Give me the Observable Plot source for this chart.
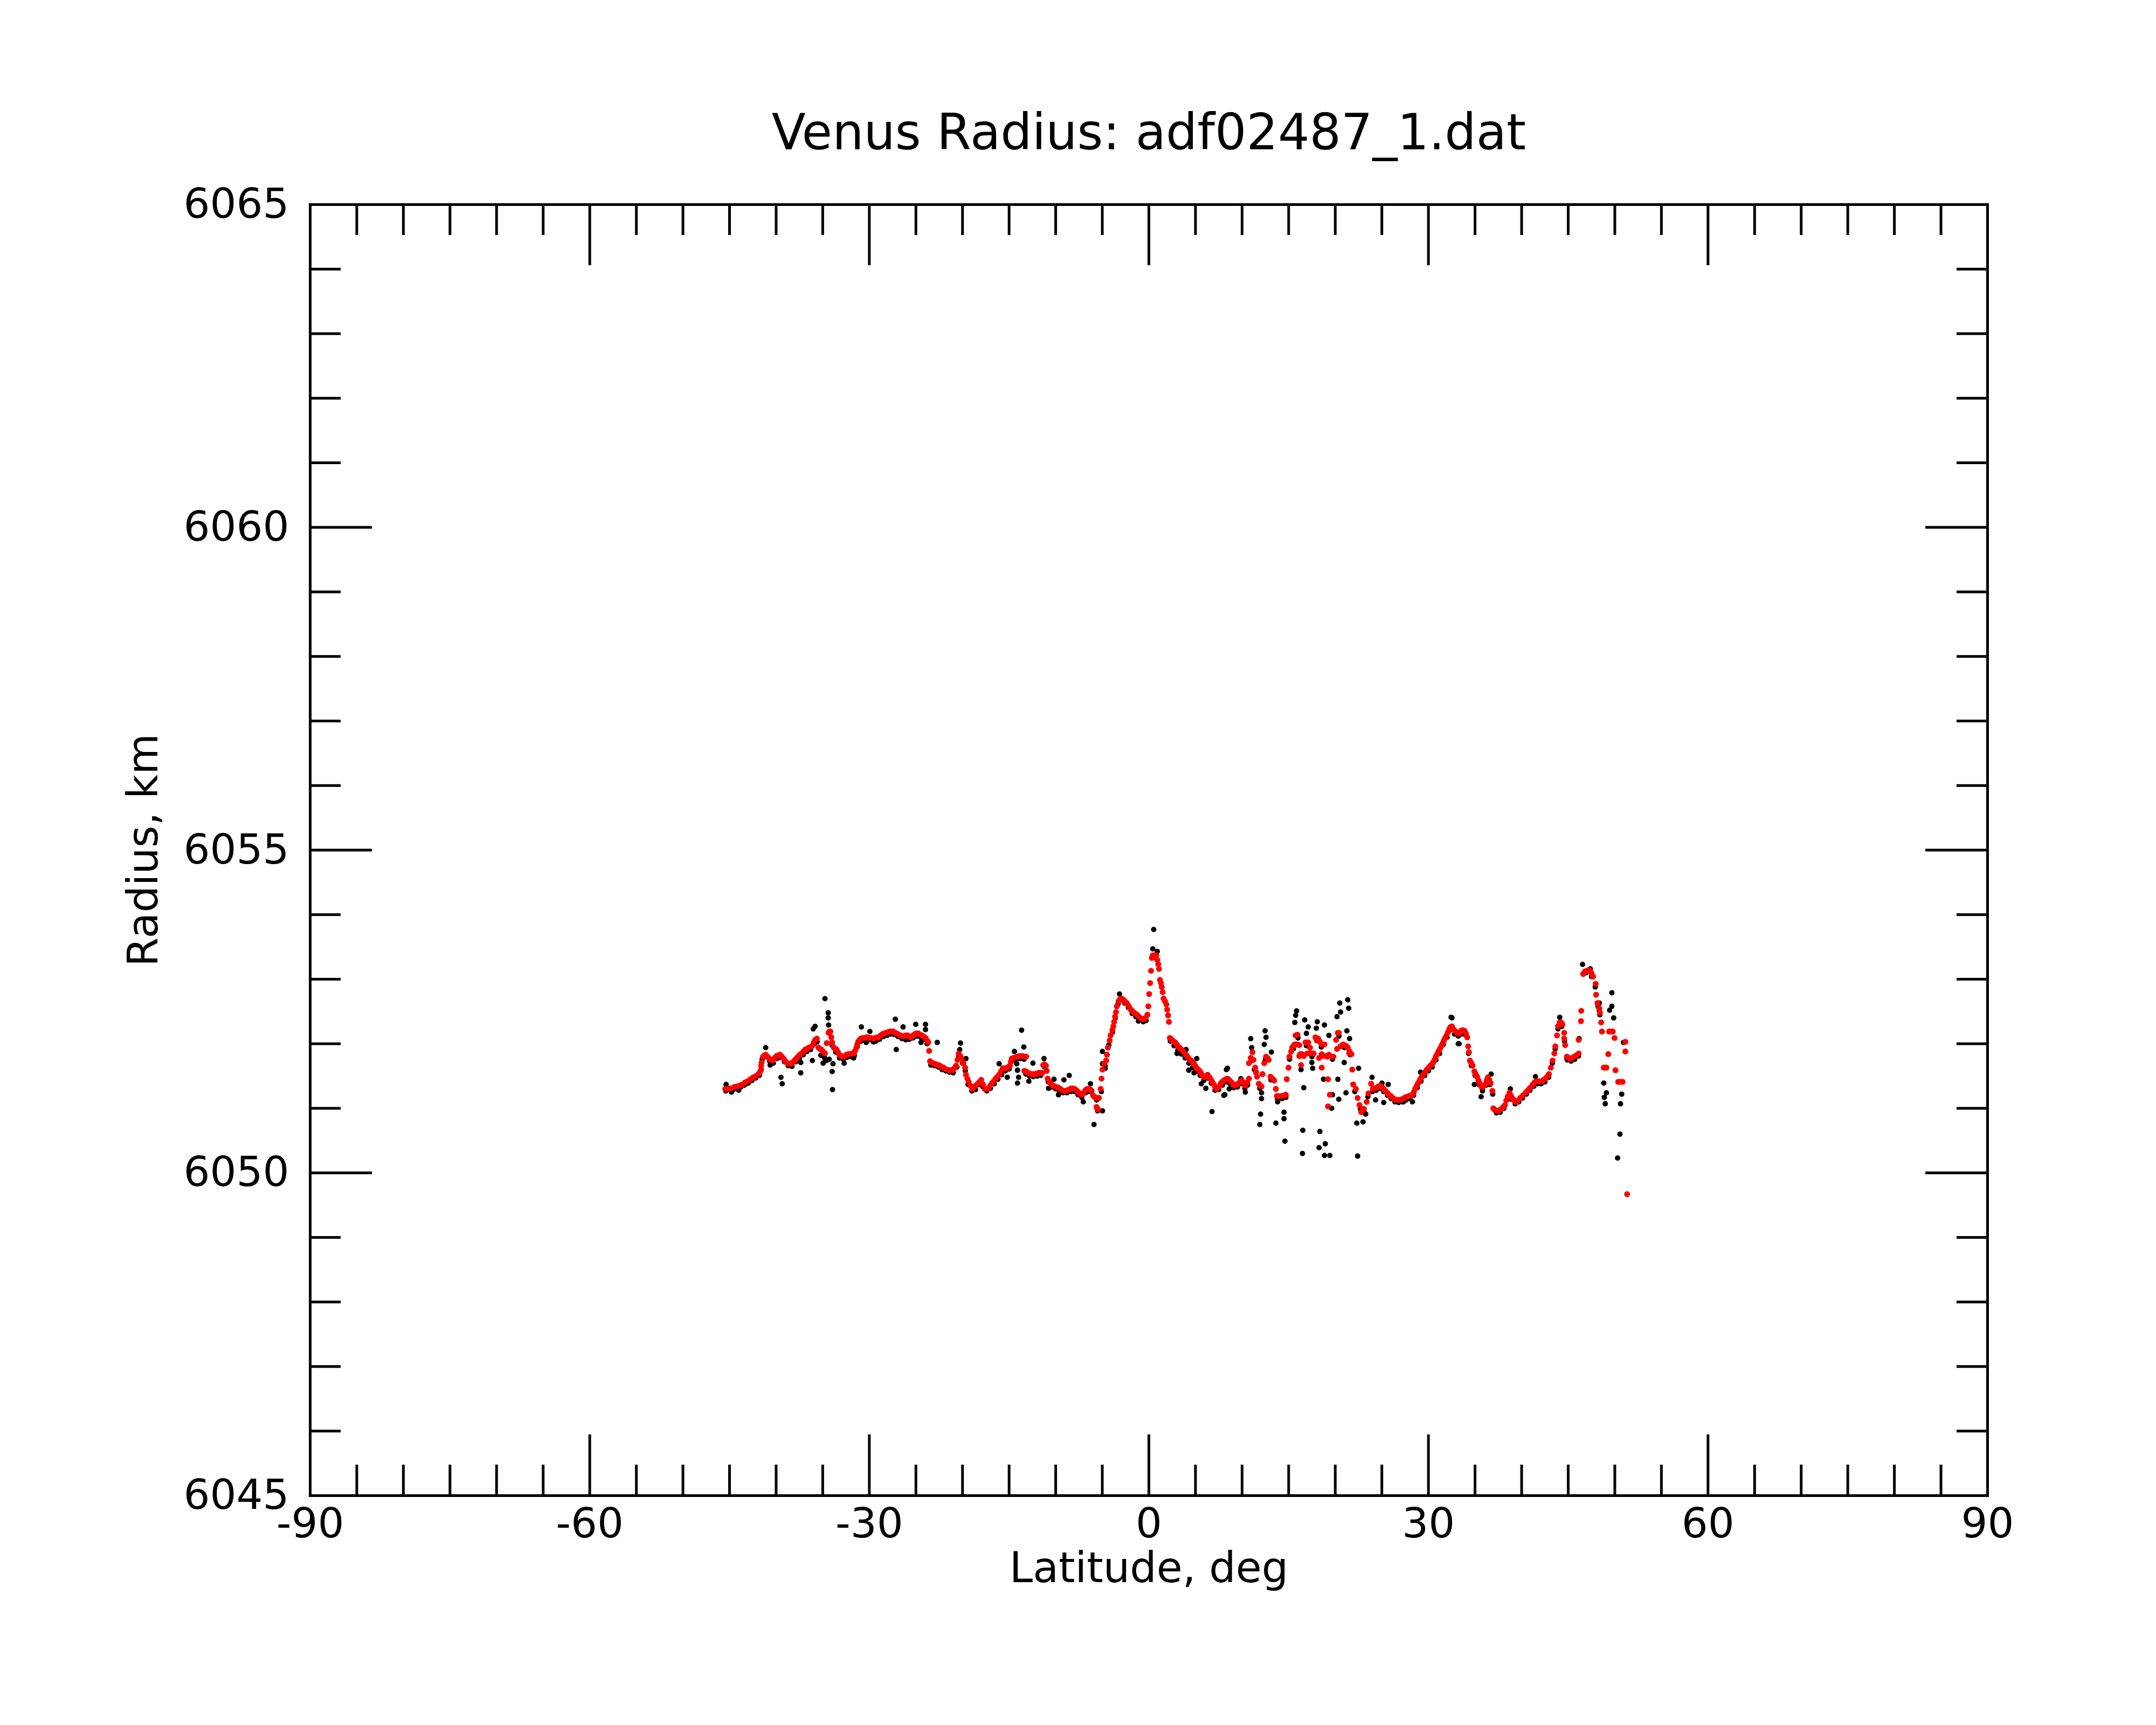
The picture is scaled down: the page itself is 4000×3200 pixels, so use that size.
<!DOCTYPE html>
<html><head><meta charset="utf-8">
<script src="https://cdn.jsdelivr.net/npm/d3@7"></script>
<script src="https://cdn.jsdelivr.net/npm/@observablehq/plot@0.6"></script>
<style>body{margin:0;background:#fff;} svg{display:block}</style>
</head><body><div id="chart"></div>
<script>
const title = "Venus Radius: adf02487_1.dat";
const xLabel = "Latitude, deg";
const yLabel = "Radius, km";
const xMajorTicks = [-90,-60,-30,0,30,60,90];
const xMinorTicks = [-85,-80,-75,-70,-65,-55,-50,-45,-40,-35,-25,-20,-15,-10,-5,5,10,15,20,25,35,40,45,50,55,65,70,75,80,85];
const yMajorTicks = [6045,6050,6055,6060,6065];
const yMinorTicks = [6046,6047,6048,6049,6051,6052,6053,6054,6056,6057,6058,6059,6061,6062,6063,6064];

// red series (latitude, radius km)
const redSouth = [[-45.46,6051.30],[-45.20,6051.30],[-44.99,6051.31],[-44.79,6051.31],[-44.50,6051.33],[-44.21,6051.34],[-43.92,6051.35],[-43.63,6051.37],[-43.34,6051.40],[-43.05,6051.42],[-42.76,6051.45],[-42.47,6051.48],[-42.18,6051.50],[-41.90,6051.53],[-41.75,6051.56],[-41.61,6051.60],[-41.61,6051.66],[-41.55,6051.71],[-41.41,6051.80],[-41.25,6051.82],[-41.12,6051.83],[-40.93,6051.80],[-40.74,6051.77],[-40.55,6051.75],[-40.35,6051.74],[-40.16,6051.78],[-39.97,6051.81],[-39.78,6051.82],[-39.58,6051.83],[-39.39,6051.80],[-39.20,6051.77],[-39.00,6051.73],[-38.81,6051.70],[-38.62,6051.69],[-38.43,6051.69],[-38.24,6051.71],[-38.04,6051.74],[-37.85,6051.77],[-37.65,6051.80],[-37.46,6051.83],[-37.27,6051.85],[-37.07,6051.88],[-36.88,6051.91],[-36.69,6051.92],[-36.50,6051.94],[-36.30,6051.95],[-36.11,6051.97],[-35.96,6052.02],[-35.82,6052.06],[-35.63,6052.08],[-35.44,6051.94],[-35.30,6051.92],[-35.15,6051.91],[-34.96,6051.88],[-34.76,6051.85],[-34.57,6052.01],[-34.38,6052.17],[-34.28,6052.19],[-34.18,6052.19],[-34.08,6052.10],[-33.99,6052.02],[-33.80,6051.94],[-33.65,6051.92],[-33.51,6051.91],[-33.36,6051.87],[-33.22,6051.83],[-33.02,6051.81],[-32.83,6051.80],[-32.64,6051.81],[-32.45,6051.83],[-32.25,6051.84],[-32.06,6051.84],[-31.87,6051.85],[-31.68,6051.85],[-31.53,6051.89],[-31.39,6051.94],[-31.29,6051.99],[-31.19,6052.03],[-31.05,6052.06],[-30.91,6052.08],[-30.71,6052.09],[-30.52,6052.09],[-30.33,6052.10],[-30.13,6052.10],[-29.94,6052.09],[-29.75,6052.09],[-29.56,6052.08],[-29.36,6052.09],[-29.17,6052.10],[-28.98,6052.10],[-28.78,6052.13],[-28.59,6052.15],[-28.40,6052.16],[-28.21,6052.17],[-28.01,6052.18],[-27.82,6052.19],[-27.63,6052.19],[-27.43,6052.19],[-27.24,6052.17],[-27.05,6052.16],[-26.86,6052.14],[-26.66,6052.13],[-26.47,6052.12],[-26.28,6052.12],[-26.09,6052.13],[-25.89,6052.13],[-25.70,6052.11],[-25.51,6052.10],[-25.31,6052.13],[-25.12,6052.15],[-24.93,6052.16],[-24.74,6052.16],[-24.55,6052.14],[-24.35,6052.13],[-24.16,6052.11],[-23.97,6052.09],[-23.80,6052.05],[-23.68,6052.02],[-23.58,6051.89],[-23.48,6051.73],[-23.34,6051.71],[-23.19,6051.70],[-23.00,6051.69],[-22.80,6051.68],[-22.61,6051.67],[-22.42,6051.66],[-22.23,6051.64],[-22.04,6051.63],[-21.85,6051.61],[-21.65,6051.60],[-21.46,6051.59],[-21.26,6051.59],[-21.07,6051.59],[-20.88,6051.62],[-20.69,6051.66],[-20.55,6051.75],[-20.40,6051.85],[-20.25,6051.81],[-20.11,6051.77],[-19.92,6051.70],[-19.72,6051.63],[-19.63,6051.52],[-19.48,6051.46],[-19.34,6051.41],[-19.15,6051.35],[-18.95,6051.30],[-18.76,6051.33],[-18.57,6051.35]];

const redEquator = [[-18.38,6051.38],[-18.18,6051.41],[-17.99,6051.44],[-17.80,6051.37],[-17.61,6051.30],[-17.41,6051.30],[-17.22,6051.31],[-17.03,6051.35],[-16.84,6051.39],[-16.64,6051.42],[-16.45,6051.46],[-16.26,6051.49],[-16.07,6051.52],[-15.87,6051.57],[-15.68,6051.62],[-15.49,6051.62],[-15.29,6051.62],[-15.10,6051.64],[-14.91,6051.66],[-14.81,6051.72],[-14.72,6051.77],[-14.53,6051.78],[-14.33,6051.79],[-14.14,6051.80],[-13.95,6051.81],[-13.75,6051.81],[-13.56,6051.81],[-13.37,6051.80],[-13.17,6051.80],[-13.37,6051.58],[-13.17,6051.57],[-12.98,6051.55],[-12.79,6051.54],[-12.60,6051.52],[-12.41,6051.53],[-12.21,6051.53],[-12.02,6051.54],[-11.82,6051.55],[-11.63,6051.55],[-11.44,6051.55],[-11.34,6051.67],[-11.20,6051.68],[-11.05,6051.66],[-10.96,6051.58],[-10.86,6051.46],[-10.67,6051.41],[-10.48,6051.38],[-10.28,6051.35],[-10.09,6051.34],[-9.90,6051.33],[-9.70,6051.32],[-9.51,6051.30],[-9.32,6051.28],[-9.12,6051.27],[-8.93,6051.27],[-8.74,6051.28],[-8.55,6051.29],[-8.35,6051.31],[-8.16,6051.31],[-7.97,6051.30],[-7.78,6051.28],[-7.58,6051.25],[-7.44,6051.23],[-7.29,6051.21],[-7.15,6051.22],[-7.00,6051.24],[-6.81,6051.28],[-6.62,6051.30],[-6.42,6051.30],[-6.28,6051.29],[-6.14,6051.27],[-5.94,6051.19],[-5.80,6051.17],[-5.65,6051.16],[-5.50,6051.16],[-5.36,6051.16],[-5.62,6051.02],[-5.55,6051.00],[-5.46,6050.98],[-5.17,6051.30],[-5.08,6051.46],[-4.98,6051.60],[-4.79,6051.69],[-4.59,6051.74],[-4.50,6051.83],[-4.40,6051.94],[-4.21,6052.05],[-4.11,6052.13],[-3.92,6052.21],[-3.82,6052.27],[-3.73,6052.34],[-3.63,6052.42],[-3.53,6052.49],[-3.44,6052.58],[-3.24,6052.66],[-3.10,6052.69],[-2.96,6052.70],[-2.81,6052.69],[-2.67,6052.67],[-2.53,6052.65],[-2.38,6052.63],[-2.24,6052.60],[-2.09,6052.56],[-1.95,6052.53],[-1.80,6052.51],[-1.66,6052.49],[-1.51,6052.47],[-1.37,6052.46],[-1.22,6052.44],[-1.08,6052.42],[-0.93,6052.40],[-0.79,6052.39],[-0.64,6052.38],[-0.50,6052.39],[-0.35,6052.40],[-0.16,6052.45],[-0.06,6052.58],[0.03,6052.77],[0.13,6052.94],[0.23,6053.13],[0.32,6053.33],[0.42,6053.37],[0.52,6053.37],[0.66,6053.37],[0.80,6053.37],[0.90,6053.30],[1.00,6053.23],[1.09,6053.16],[1.19,6052.99],[1.29,6052.94],[1.38,6052.88],[1.48,6052.80],[1.58,6052.70],[1.72,6052.66],[1.87,6052.61],[1.96,6052.53],[2.06,6052.44],[2.15,6052.34],[2.25,6052.09],[2.40,6052.07],[2.54,6052.05],[2.69,6052.03],[2.83,6052.02],[2.98,6051.99],[3.12,6051.96],[3.27,6051.94],[3.41,6051.92],[3.56,6051.90],[3.70,6051.88],[3.85,6051.85],[3.99,6051.83],[4.14,6051.80],[4.28,6051.77],[4.42,6051.75],[4.56,6051.74],[4.71,6051.71],[4.85,6051.69],[5.00,6051.65],[5.14,6051.62],[5.29,6051.60],[5.43,6051.58],[5.58,6051.55],[5.72,6051.51],[5.87,6051.49],[6.01,6051.48],[6.15,6051.50],[6.30,6051.52],[6.50,6051.48],[6.69,6051.44],[6.83,6051.40],[6.97,6051.37],[7.12,6051.33],[7.26,6051.30],[7.41,6051.32],[7.55,6051.34],[7.70,6051.38],[7.84,6051.41],[8.04,6051.43],[8.23,6051.45]];

const redNorth = [[8.43,6051.46],[8.62,6051.44],[8.81,6051.41],[9.01,6051.38],[9.20,6051.35],[9.39,6051.37],[9.58,6051.38],[9.78,6051.41],[9.97,6051.43],[10.16,6051.40],[10.35,6051.35],[10.55,6051.40],[10.74,6051.46],[10.74,6051.70],[10.93,6051.78],[11.12,6051.87],[11.22,6051.75],[11.41,6051.63],[11.51,6051.56],[11.61,6051.49],[11.80,6051.38],[11.95,6051.35],[12.09,6051.34],[12.19,6051.53],[12.38,6051.70],[12.57,6051.80],[12.72,6051.78],[12.86,6051.75],[13.05,6051.49],[13.25,6051.46],[13.44,6051.43],[13.63,6051.30],[13.73,6051.19],[13.92,6051.19],[14.21,6051.19],[14.50,6051.20],[14.69,6051.21],[14.79,6051.45],[14.98,6051.63],[15.08,6051.80],[15.27,6051.88],[15.37,6051.94],[15.56,6051.98],[15.66,6051.99],[15.85,6051.99],[15.75,6052.13],[15.94,6052.14],[16.14,6051.98],[16.14,6051.81],[16.23,6051.84],[16.43,6051.84],[16.33,6051.67],[16.62,6051.81],[16.81,6052.02],[17.10,6052.02],[17.00,6051.85],[17.29,6051.85],[17.29,6051.94],[17.49,6051.85],[17.68,6051.85],[17.87,6052.10],[18.00,6052.06],[18.16,6052.08],[18.35,6052.03],[18.26,6051.78],[18.55,6051.99],[18.55,6051.84],[18.55,6051.63],[18.65,6051.81],[18.84,6051.99],[19.03,6051.81],[19.13,6051.80],[19.32,6051.83],[19.22,6051.45],[19.42,6051.21],[19.22,6051.03],[19.61,6051.80],[19.80,6051.80],[20.09,6052.06],[20.28,6052.17],[20.38,6052.17],[20.19,6051.92],[20.57,6051.96],[20.76,6051.98],[20.86,6051.99],[21.15,6051.97],[21.34,6051.94],[21.50,6051.85],[21.54,6051.88],[21.73,6051.84],[21.83,6051.60],[21.92,6051.37],[22.21,6051.30],[22.40,6051.16],[22.60,6051.05],[22.79,6050.94],[22.98,6050.99],[23.08,6050.99],[23.37,6051.10],[23.56,6051.23],[23.85,6051.38],[24.04,6051.30],[24.23,6051.31],[24.43,6051.32],[24.62,6051.34],[24.81,6051.35],[25.01,6051.33],[25.20,6051.30],[25.39,6051.27],[25.58,6051.24],[25.78,6051.21],[25.97,6051.19],[26.16,6051.16],[26.36,6051.14],[26.55,6051.13],[26.74,6051.13],[26.94,6051.13],[27.13,6051.14],[27.32,6051.15],[27.51,6051.17],[27.71,6051.18],[27.90,6051.19],[28.09,6051.20],[28.28,6051.21],[28.43,6051.25],[28.57,6051.30],[28.72,6051.34],[28.86,6051.38],[29.01,6051.42],[29.15,6051.46],[29.30,6051.49],[29.44,6051.52],[29.63,6051.56],[29.83,6051.60],[30.02,6051.63],[30.21,6051.66],[30.36,6051.68],[30.50,6051.71],[30.65,6051.75],[30.79,6051.80],[30.94,6051.84],[31.08,6051.88],[31.22,6051.92],[31.37,6051.96],[31.51,6052.00],[31.66,6052.05],[31.80,6052.09],[31.95,6052.13],[32.10,6052.18],[32.24,6052.23],[32.38,6052.26],[32.53,6052.27],[32.72,6052.22],[32.91,6052.19],[33.10,6052.16]];

const redFar = [[33.30,6052.16],[33.49,6052.20],[33.68,6052.21],[33.87,6052.20],[34.02,6052.16],[34.16,6052.10],[34.26,6051.96],[34.35,6051.87],[34.45,6051.74],[34.60,6051.70],[34.74,6051.66],[34.93,6051.57],[35.07,6051.53],[35.22,6051.49],[35.37,6051.43],[35.51,6051.38],[35.70,6051.33],[35.90,6051.34],[36.09,6051.37],[36.24,6051.43],[36.38,6051.48],[36.53,6051.44],[36.67,6051.39],[36.86,6051.27],[36.96,6051.00],[37.15,6050.97],[37.34,6050.96],[37.58,6050.97],[37.82,6050.99],[38.02,6051.02],[38.21,6051.05],[38.35,6051.12],[38.50,6051.18],[38.69,6051.24],[38.84,6051.20],[38.98,6051.16],[39.17,6051.13],[39.37,6051.10],[39.61,6051.12],[39.85,6051.16],[40.14,6051.20],[40.43,6051.24],[40.62,6051.27],[40.81,6051.30],[41.01,6051.33],[41.20,6051.37],[41.39,6051.40],[41.58,6051.42],[41.87,6051.42],[42.16,6051.42],[42.35,6051.44],[42.55,6051.46],[42.74,6051.49],[42.93,6051.53],[43.13,6051.63],[43.32,6051.74],[43.51,6051.85],[43.61,6051.96],[43.80,6052.13],[43.90,6052.27],[44.09,6052.33],[44.23,6052.33],[44.38,6052.30],[44.57,6052.17],[44.57,6052.08],[44.67,6051.98],[44.86,6051.80],[45.05,6051.78],[45.25,6051.77],[45.44,6051.78],[45.63,6051.80],[45.85,6051.82],[46.12,6051.85],[46.12,6052.06],[46.37,6052.35],[46.40,6052.51],[46.60,6053.08],[46.79,6053.12],[46.98,6053.13],[47.18,6053.14],[47.37,6053.13],[47.50,6053.09],[47.66,6053.04],[47.95,6052.93],[47.99,6052.76],[48.14,6052.63],[48.33,6052.55],[48.40,6052.48],[48.53,6052.33],[48.62,6052.19],[48.81,6051.63],[49.00,6051.63],[49.10,6051.63],[49.30,6051.84],[49.39,6052.19],[49.59,6052.19],[49.78,6052.19],[49.97,6052.09],[50.07,6051.59],[50.36,6051.41],[50.55,6051.41],[50.74,6051.41],[50.84,6051.41],[51.13,6052.03],[51.13,6051.88],[51.32,6049.67]];

// black series (latitude, radius km)
const blackSouth = [[-45.40,6051.27],[-45.00,6051.29],[-44.60,6051.29],[-44.20,6051.31],[-43.80,6051.33],[-43.40,6051.36],[-43.00,6051.39],[-42.60,6051.43],[-42.20,6051.47],[-41.80,6051.51],[-41.50,6051.76],[-41.10,6051.80],[-40.70,6051.73],[-40.30,6051.70],[-39.90,6051.77],[-39.50,6051.79],[-39.10,6051.72],[-38.70,6051.66],[-38.30,6051.65],[-37.90,6051.72],[-37.50,6051.78],[-37.10,6051.83],[-36.70,6051.88],[-36.30,6051.91],[-35.90,6052.00],[-35.60,6052.03],[-35.20,6051.82],[-34.80,6051.78],[-34.60,6051.74],[-34.30,6051.76],[-34.00,6051.98],[-33.60,6051.87],[-33.20,6051.78],[-32.80,6051.76],[-32.40,6051.79],[-32.00,6051.80],[-31.60,6051.82],[-31.30,6051.95],[-30.90,6052.04],[-30.50,6052.05],[-30.10,6052.06],[-29.70,6052.05],[-29.30,6052.04],[-28.90,6052.07],[-28.50,6052.11],[-28.10,6052.13],[-27.70,6052.15],[-27.30,6052.14],[-26.90,6052.11],[-26.50,6052.08],[-26.10,6052.09],[-25.70,6052.07],[-25.30,6052.09],[-24.90,6052.12],[-24.50,6052.10],[-24.10,6052.07],[-23.80,6052.00],[-23.40,6051.67],[-23.00,6051.66],[-22.60,6051.64],[-22.20,6051.60],[-21.80,6051.58],[-21.40,6051.56],[-21.00,6051.55],[-20.60,6051.64],[-20.40,6051.81],[-20.00,6051.70],[-19.70,6051.58],[-19.40,6051.37],[-19.00,6051.27],[-18.60,6051.29],
[-34.76,6052.70],[-34.41,6052.48],[-34.41,6052.40],[-34.37,6052.29],[-35.82,6052.27],[-36.02,6052.23],[-39.48,6051.48],[-39.35,6051.38],[-37.36,6051.71],[-37.36,6051.55],[-36.11,6051.74],[-34.96,6051.70],[-33.90,6051.69],[-33.99,6051.57],[-33.95,6051.29],[-32.70,6051.70],[-30.85,6052.26],[-29.94,6052.19],[-27.21,6052.38],[-27.11,6051.91],[-26.38,6052.26],[-25.02,6052.30],[-23.97,6052.30],[-23.97,6052.22],[-22.71,6052.02],[-20.21,6052.01],[-20.30,6051.91],[-19.63,6051.77],[-18.95,6051.28],[-41.12,6051.94],[-24.45,6052.02],[-26.09,6052.06],[-29.56,6052.03],[-30.33,6052.02],[-31.68,6051.78],[-38.43,6051.66],[-40.64,6051.67],[-45.37,6051.37],[-44.79,6051.25],[-44.02,6051.28]];

const blackEquator = [[-18.20,6051.37],[-17.80,6051.33],[-17.40,6051.27],[-17.00,6051.31],[-16.60,6051.38],[-16.20,6051.45],[-15.80,6051.52],[-15.40,6051.58],[-15.00,6051.61],[-14.60,6051.74],[-14.20,6051.76],[-13.80,6051.77],[-13.40,6051.76],[-13.20,6051.53],[-12.80,6051.50],[-12.40,6051.49],[-12.00,6051.50],[-11.60,6051.51],[-11.20,6051.64],[-10.80,6051.41],[-10.40,6051.33],[-10.00,6051.30],[-9.60,6051.27],[-9.20,6051.24],[-8.80,6051.24],[-8.40,6051.26],[-8.00,6051.26],[-7.60,6051.21],[-7.20,6051.17],[-6.80,6051.24],[-6.40,6051.26],[-6.00,6051.20],[-5.60,6051.13],[-5.50,6050.96],[-5.10,6051.26],[-4.70,6051.66],[-4.30,6051.98],[-3.90,6052.18],[-3.60,6052.40],[-3.30,6052.62],[-3.00,6052.70],[-2.60,6052.63],[-2.20,6052.56],[-1.80,6052.47],[-1.40,6052.42],[-1.00,6052.37],[-0.60,6052.34],[-0.30,6052.36],[0.40,6053.35],[0.70,6053.33],[2.30,6052.04],[2.70,6051.97],[3.10,6051.90],[3.50,6051.84],[3.90,6051.78],[4.30,6051.70],[4.70,6051.63],[5.10,6051.57],[5.50,6051.51],[5.90,6051.43],[6.30,6051.47],[6.70,6051.39],[7.10,6051.28],[7.50,6051.29],[7.90,6051.36],[8.30,6051.41],
[0.52,6053.77],[0.42,6053.47],[0.90,6053.43],[-3.15,6052.77],[-13.66,6052.21],[-13.42,6051.95],[-14.43,6051.88],[-14.18,6051.69],[-14.10,6051.59],[-13.98,6051.48],[-14.10,6051.39],[-15.20,6051.48],[-16.07,6051.69],[-12.44,6051.70],[-12.88,6051.42],[-11.25,6051.77],[-8.55,6051.51],[-9.12,6051.44],[-10.18,6051.45],[-9.70,6051.21],[-10.76,6051.31],[-6.27,6051.38],[-7.04,6051.10],[-5.89,6050.75],[-4.98,6051.88],[-4.98,6051.69],[-4.69,6051.62],[-4.98,6050.96],[6.78,6050.95],[8.32,6051.60],[8.04,6051.20],[6.11,6051.31],[5.63,6051.38],[4.85,6051.55],[4.28,6051.59],[3.99,6051.91],[3.02,6051.85],[5.14,6051.77],[-1.12,6052.35]];

const blackNorth = [[8.70,6051.38],[9.10,6051.32],[9.50,6051.33],[9.90,6051.38],[10.30,6051.31],[10.60,6051.36],[11.00,6051.74],[11.50,6051.55],[11.90,6051.31],[12.50,6051.75],[13.10,6051.44],[13.80,6051.15],[14.30,6051.15],[14.70,6051.17],[15.10,6051.76],[15.50,6051.92],[16.00,6052.09],[16.90,6051.97],[17.50,6051.80],[18.00,6052.05],[18.50,6051.95],[19.70,6051.76],[20.40,6052.12],[21.00,6051.94],[21.60,6051.83],[22.10,6051.26],[22.70,6050.99],[23.10,6050.94],[23.50,6051.18],[24.00,6051.26],[24.40,6051.28],[24.80,6051.31],[25.20,6051.26],[25.60,6051.20],[26.00,6051.15],[26.40,6051.10],[26.80,6051.09],[27.20,6051.10],[27.60,6051.13],[28.00,6051.15],[28.40,6051.20],[28.80,6051.32],[29.20,6051.42],[29.60,6051.51],[30.00,6051.58],[30.40,6051.64],[30.80,6051.75],[31.20,6051.85],[31.60,6051.99],[32.00,6052.10],[32.40,6052.22],[32.80,6052.15],[33.20,6052.12],
[10.93,6052.08],[11.03,6051.94],[12.47,6052.20],[12.57,6052.10],[12.38,6051.99],[13.15,6051.87],[11.32,6051.60],[12.09,6051.24],[12.09,6051.15],[11.99,6050.91],[11.90,6050.75],[13.63,6050.77],[14.50,6050.94],[14.50,6050.84],[14.60,6050.49],[13.82,6051.10],[15.85,6052.51],[15.75,6052.44],[15.66,6052.33],[16.72,6052.37],[17.10,6052.26],[18.07,6052.34],[17.97,6052.24],[18.84,6052.29],[19.32,6052.13],[20.48,6052.63],[21.34,6052.68],[21.44,6052.55],[20.57,6052.49],[20.19,6052.42],[21.25,6052.20],[21.54,6052.08],[16.91,6052.16],[17.49,6051.71],[17.58,6051.62],[16.33,6051.60],[16.62,6051.32],[16.52,6050.66],[16.48,6050.30],[18.26,6050.39],[18.35,6050.64],[18.93,6050.45],[18.84,6050.27],[19.42,6050.27],[18.74,6051.45],[20.28,6051.45],[19.70,6051.21],[19.61,6051.00],[20.38,6051.14],[21.15,6051.24],[20.96,6051.71],[22.50,6051.62],[22.31,6050.77],[22.98,6050.79],[23.27,6050.91],[22.40,6050.26],[23.95,6051.48],[25.01,6051.39],[25.68,6051.37],[24.33,6051.13],[25.20,6051.09],[27.32,6051.10],[28.28,6051.10],[29.15,6051.56],[32.43,6052.41],[33.20,6052.00],[8.43,6051.62],[8.14,6051.21],[8.62,6051.30],[10.35,6051.25],[9.87,6051.46]];

const blackFar = [[33.60,6052.15],[34.00,6052.14],[34.30,6051.85],[34.60,6051.66],[35.00,6051.51],[35.40,6051.37],[35.80,6051.27],[36.20,6051.36],[36.60,6051.37],[36.90,6051.22],[37.30,6050.93],[37.70,6050.94],[38.10,6051.00],[38.50,6051.14],[38.90,6051.14],[39.30,6051.07],[39.70,6051.10],[40.10,6051.16],[40.50,6051.22],[40.90,6051.28],[41.30,6051.34],[41.70,6051.38],[42.10,6051.38],[42.50,6051.41],[42.90,6051.48],[43.30,6051.70],[43.60,6051.92],[43.90,6052.23],[44.30,6052.27],[44.60,6052.04],[44.90,6051.75],[45.30,6051.73],[45.70,6051.76],[46.10,6051.81],[46.90,6053.10],[47.50,6053.04],[47.90,6052.88],[48.20,6052.58],[48.40,6052.45],
[46.54,6053.23],[47.37,6053.16],[49.68,6052.79],[49.68,6052.58],[49.45,6052.52],[49.88,6052.40],[48.33,6052.63],[48.33,6052.52],[50.93,6052.02],[48.81,6051.39],[49.10,6051.24],[48.87,6051.17],[48.97,6051.07],[50.74,6051.22],[50.61,6051.07],[50.55,6050.60],[50.30,6050.23],[46.17,6052.08],[44.09,6052.41],[33.29,6052.00],[35.65,6051.18],[34.93,6051.37],[36.73,6051.53],[38.79,6051.30],[41.49,6051.49],[44.86,6051.77],[32.52,6052.40]];

const red = [...redSouth, ...redEquator, ...redNorth, ...redFar];
const black = [...blackSouth, ...blackEquator, ...blackNorth, ...blackFar];

const W = 4000, H = 3200, mL = 575, mR = 313, mT = 379, mB = 426;
const fw = W - mL - mR, fh = H - mT - mB;
const font = "DejaVu Sans";
const lw = 5;

const chart = Plot.plot({
  width: W, height: H,
  marginLeft: mL, marginRight: mR, marginTop: mT, marginBottom: mB,
  style: {fontFamily: font, background: "white", color: "black"},
  x: {domain: [-90, 90], axis: null},
  y: {domain: [6045, 6065], axis: null},
  marks: [
    Plot.dot(black, {x: d => d[0], y: d => d[1], r: 5, fill: "black"}),
    Plot.dot(red, {x: d => d[0], y: d => d[1], r: 5.5, fill: "red"}),
    Plot.ruleX(xMinorTicks, {x: d => d, insetTop: fh - 57, stroke: "black", strokeWidth: lw}),
    Plot.ruleX(xMinorTicks, {x: d => d, insetBottom: fh - 57, stroke: "black", strokeWidth: lw}),
    Plot.ruleX(xMajorTicks, {x: d => d, insetTop: fh - 113, stroke: "black", strokeWidth: lw}),
    Plot.ruleX(xMajorTicks, {x: d => d, insetBottom: fh - 113, stroke: "black", strokeWidth: lw}),
    Plot.ruleY(yMinorTicks, {y: d => d, insetRight: fw - 57, stroke: "black", strokeWidth: lw}),
    Plot.ruleY(yMinorTicks, {y: d => d, insetLeft: fw - 57, stroke: "black", strokeWidth: lw}),
    Plot.ruleY(yMajorTicks, {y: d => d, insetRight: fw - 115, stroke: "black", strokeWidth: lw}),
    Plot.ruleY(yMajorTicks, {y: d => d, insetLeft: fw - 115, stroke: "black", strokeWidth: lw}),
    Plot.frame({stroke: "black", strokeWidth: lw}),
    Plot.text(xMajorTicks, {x: d => d, text: d => String(d), frameAnchor: "bottom", dy: 53, lineAnchor: "middle", fontSize: 77, fontFamily: font, fill: "black"}),
    Plot.text(yMajorTicks, {y: d => d, text: d => String(d), frameAnchor: "left", dx: -39, textAnchor: "end", lineAnchor: "middle", fontSize: 77, fontFamily: font, fill: "black"}),
    Plot.text([title], {text: d => d, frameAnchor: "top", dy: -132, lineAnchor: "middle", fontSize: 92, fontFamily: font, fill: "black"}),
    Plot.text([xLabel], {text: d => d, frameAnchor: "bottom", dy: 136, lineAnchor: "middle", fontSize: 78, fontFamily: font, fill: "black"}),
    Plot.text([yLabel], {text: d => d, frameAnchor: "left", dx: -308, rotate: -90, textAnchor: "middle", lineAnchor: "middle", fontSize: 78, fontFamily: font, fill: "black"})
  ]
});
document.getElementById("chart").appendChild(chart);
</script>
</body></html>
